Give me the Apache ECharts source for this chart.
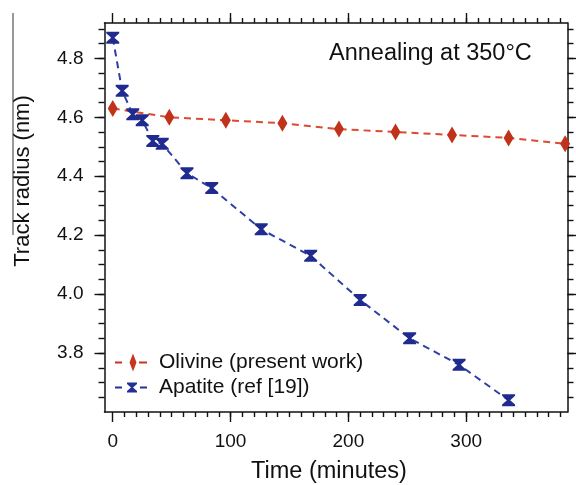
<!DOCTYPE html>
<html>
<head>
<meta charset="utf-8">
<script src="https://cdn.jsdelivr.net/npm/echarts@6/dist/echarts.min.js"></script>
<style>
html,body{margin:0;padding:0;background:#fff;}
#chart{width:576px;height:485px;}
</style>
</head>
<body>
<div id="chart"></div>
<script>
// ---- data ----
const olivineTime = [0, 48, 96, 144, 192, 240, 288, 336, 384];
const olivineRadius = [4.63, 4.60, 4.59, 4.58, 4.56, 4.55, 4.54, 4.53, 4.51];
const apatiteTime = [0, 8, 17, 25, 34, 42, 63, 84, 126, 168, 210, 252, 294, 336];
const apatiteRadius = [4.87, 4.69, 4.61, 4.59, 4.52, 4.51, 4.41, 4.36, 4.22, 4.13, 3.98, 3.85, 3.76, 3.64];
const xTickLabels = [0, 100, 200, 300];
const yTickLabels = [3.8, 4.0, 4.2, 4.4, 4.6, 4.8];
const seriesNames = ['Olivine (present work)', 'Apatite (ref [19])'];
const annotation = 'Annealing at 350°C';
const xTitle = 'Time (minutes)';
const yTitle = 'Track radius (nm)';

// ---- layout / style ----
const X_MIN = -7, X_MAX = 386, Y_MIN = 3.6, Y_MAX = 4.92;
const xMinor = [], yMinor = [];
for (let v = 10; v < X_MAX; v += 10) xMinor.push(v);
for (let k = 73; k <= 98; k++) yMinor.push(Math.round(k * 5) / 100);

const FONT = "'Liberation Sans', Arial, Helvetica, sans-serif";
const AX = '#111111';
const OB = { outerBoundsMode: 'none' };
const gridRect = Object.assign({ left: 104.5, right: 8.5, top: 23, bottom: 73 }, OB);
// strip just below the plot, used to carry the bottom tick marks
const stripRect = Object.assign({ left: 104.5, right: 8.5, top: 412, height: 30 }, OB);

function xAx(grid, pos, ticks, len, labels, lineShow, extra, inside, tickShow) {
  return Object.assign({
    type: 'value', gridIndex: grid, position: pos, min: X_MIN, max: X_MAX,
    axisLine: { show: lineShow, onZero: false, lineStyle: { color: AX, width: 1.5 } },
    axisTick: { show: tickShow !== false, inside: !!inside, length: len, customValues: ticks, lineStyle: { color: AX, width: 1.4 } },
    axisLabel: labels ? { show: true, customValues: labels, fontSize: 19, margin: 20, color: '#111', fontFamily: FONT } : { show: false },
    splitLine: { show: false }
  }, extra || {});
}
function yAx(grid, pos, ticks, len, labels, lineShow) {
  return {
    type: 'value', gridIndex: grid, position: pos, min: Y_MIN, max: Y_MAX,
    axisLine: { show: lineShow, onZero: false, lineStyle: { color: AX, width: 1.5 } },
    axisTick: { show: true, inside: false, length: len, customValues: ticks, lineStyle: { color: AX, width: 1.4 } },
    axisLabel: labels ? { show: true, customValues: labels, fontSize: 19, margin: 21, color: '#111', fontFamily: FONT,
      formatter: v => Number(v).toFixed(1) } : { show: false },
    splitLine: { show: false }
  };
}
function hiddenY(grid) {
  return { type: 'value', gridIndex: grid, show: false, min: 0, max: 1 };
}

const hourglass = 'path://M0,0 L12,0 L12,1.5 L7.5,5.5 L12,9.5 L12,11 L0,11 L0,9.5 L4.5,5.5 L0,1.5 Z';
const olivineIcon = 'path://M0,8 L7,8 L7,10 L0,10 Z M14.5,9 L18,0 L21.5,9 L18,18 Z M24,8 L32,8 L32,10 L24,10 Z';
const apatiteIcon = 'path://M0,8 L7,8 L7,10 L0,10 Z M12,4 L22,4 L22,5.5 L18,9 L22,12.5 L22,14 L12,14 L12,12.5 L16,9 L12,5.5 Z M25,8 L32,8 L32,10 L25,10 Z';

const chart = echarts.init(document.getElementById('chart'), null, { renderer: 'canvas' });
chart.setOption({
  animation: false,
  backgroundColor: '#fff',
  textStyle: { fontFamily: FONT },
  grid: [Object.assign({}, gridRect), Object.assign({}, gridRect), Object.assign({}, stripRect), Object.assign({}, stripRect)],
  xAxis: [
    xAx(0, 'bottom', xTickLabels, 10, xTickLabels, true, {
      name: xTitle, nameLocation: 'middle', nameGap: 48,
      nameTextStyle: { fontSize: 23.5, color: '#111', fontFamily: FONT, padding: [0, 14, 0, 0] }
    }, false, false),
    xAx(0, 'top', xTickLabels, 10, null, true),
    xAx(1, 'bottom', xMinor, 5, null, false, null, false, false),
    xAx(1, 'top', xMinor, 5, null, false),
    xAx(2, 'top', xTickLabels, 10, null, false, null, true),
    xAx(3, 'top', xMinor, 5, null, false, null, true)
  ],
  yAxis: [
    yAx(0, 'left', yTickLabels, 10, yTickLabels, true),
    yAx(0, 'right', yTickLabels, 10, null, true),
    yAx(1, 'left', yMinor, 6, null, false),
    yAx(1, 'right', yMinor, 6, null, false),
    hiddenY(2), hiddenY(3)
  ],
  legend: {
    orient: 'vertical', left: 110, top: 347,
    itemWidth: 32, itemHeight: 18, itemGap: 4,
    symbolKeepAspect: true,
    textStyle: { fontSize: 21, color: '#111', fontFamily: FONT, padding: [0, 0, 0, 7] },
    data: [
      { name: seriesNames[0], icon: olivineIcon, itemStyle: { color: '#c8361f' } },
      { name: seriesNames[1], icon: apatiteIcon, itemStyle: { color: '#22309a' } }
    ]
  },
  graphic: [
    { type: 'text', left: 329, top: 42, z: 10,
      style: { text: annotation, fontSize: 23.5, fill: '#111', fontFamily: FONT } },
    { type: 'text', x: 22.5, y: 181, rotation: Math.PI / 2, z: 10,
      style: { text: yTitle, fontSize: 22, fill: '#111', fontFamily: FONT, align: 'center', verticalAlign: 'middle' } },
    { type: 'line', z: 10, shape: { x1: 13, y1: 13, x2: 13, y2: 235 }, style: { stroke: '#333', lineWidth: 1 } }
  ],
  series: [
    {
      name: seriesNames[0], type: 'line', xAxisIndex: 0, yAxisIndex: 0,
      data: olivineTime.map((t, i) => [t, olivineRadius[i]]),
      symbol: 'diamond', symbolSize: [10, 17],
      itemStyle: { color: '#c1321a' },
      lineStyle: { color: '#dc4a30', width: 2, type: [7, 5] },
      z: 2
    },
    {
      name: seriesNames[1], type: 'line', xAxisIndex: 0, yAxisIndex: 0,
      data: apatiteTime.map((t, i) => [t, apatiteRadius[i]]),
      symbol: hourglass, symbolSize: [13, 12],
      itemStyle: { color: '#1f2b8f' },
      lineStyle: { color: '#2d3fa3', width: 2, type: [7, 5] },
      z: 3
    }
  ]
});
</script>
</body>
</html>
